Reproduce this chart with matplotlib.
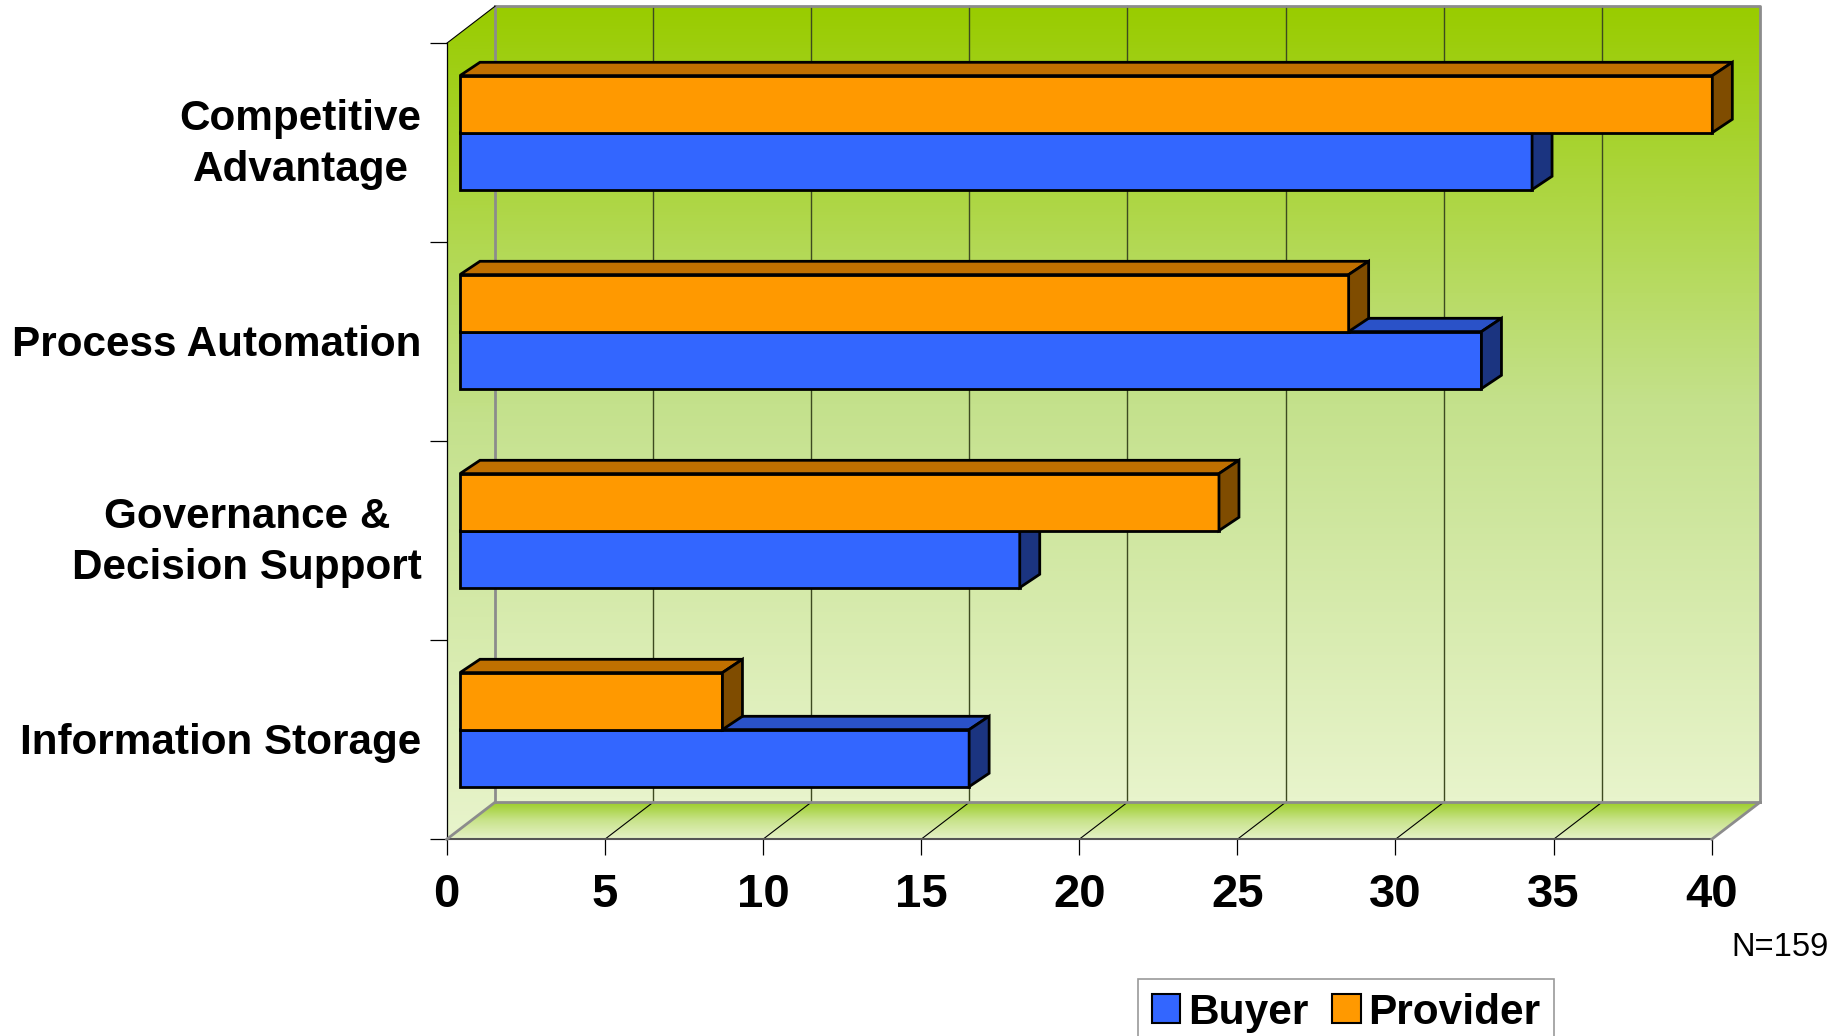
import numpy as np
import matplotlib
matplotlib.use("Agg")
import matplotlib.pyplot as plt
from matplotlib.patches import Polygon, Patch
from matplotlib.colors import LinearSegmentedColormap

# data (bottom category first)
categories = ["Information Storage", "Governance &\nDecision Support",
              "Process Automation", "Competitive\nAdvantage"]
buyer = [16.1, 17.7, 32.3, 33.9]
provider = [8.3, 24.0, 28.1, 39.6]
x_ticks = [0, 5, 10, 15, 20, 25, 30, 35, 40]
series_names = ["Buyer", "Provider"]
note = "N=159"

plt.rcParams['font.family'] = ['Liberation Sans', 'DejaVu Sans']

BLUE = ['#3366ff', '#2a52c8', '#1b3480']      # front, top, side
ORANGE = ['#ff9900', '#c07000', '#7f4c00']

W, H = 1845, 1036
fig = plt.figure(figsize=(W / 100, H / 100), dpi=100)
ax = fig.add_axes([446.7 / W, 1 - 839.3 / H, 1265 / W, 796 / H])

XMAX = x_ticks[-1]
NCAT = len(categories)
DX, DY = 1.527, 0.186          # depth of the box, data units
D0 = 0.275                     # bar front face depth fraction
BDX, BDY = 0.632, 0.067        # bar thickness in depth
BH = 0.2864                    # bar height (band = 1)


def gradient_fill(poly, colors, y0, y1, z=0):
    patch = Polygon(poly, closed=True, facecolor='none', edgecolor='none')
    ax.add_patch(patch)
    cmap = LinearSegmentedColormap.from_list('g', colors)
    grad = np.linspace(0, 1, 256).reshape(-1, 1)
    xs = [p[0] for p in poly]
    im = ax.imshow(grad, cmap=cmap, extent=(min(xs), max(xs), y0, y1),
                   origin='lower', aspect='auto', zorder=z,
                   interpolation='bilinear')
    im.set_clip_box(fig.bbox)
    im.set_clip_path(patch)


wall_cols = ['#e8f4cc', '#c4e18c', '#99cc00']
# back wall
gradient_fill([(DX, DY), (XMAX + DX, DY), (XMAX + DX, NCAT + DY), (DX, NCAT + DY)],
              wall_cols, DY, NCAT + DY)
# side wall
gradient_fill([(0, 0), (DX, DY), (DX, NCAT + DY), (0, NCAT)],
              wall_cols, 0, NCAT + DY)
# floor
gradient_fill([(0, 0), (XMAX, 0), (XMAX + DX, DY), (DX, DY)],
              ['#e6f2c8', '#c8e38a', '#99cc22'], 0, DY)

# grid on back wall and floor
for x in x_ticks[1:-1]:
    ax.plot([x + DX, x + DX], [DY, NCAT + DY], color='#3d4a20', lw=1.0,
            zorder=2, clip_on=False)
    ax.plot([x, x + DX], [0, DY], color='black', lw=0.8, zorder=2, clip_on=False)

gray = '#8c8c8c'
edge_kw = dict(color=gray, lw=2.0, zorder=3, clip_on=False, solid_capstyle='projecting')
ax.plot([DX, XMAX + DX, XMAX + DX], [NCAT + DY, NCAT + DY, DY], **edge_kw)
ax.plot([DX, DX], [DY, NCAT + DY], **edge_kw)
ax.plot([DX, XMAX + DX], [DY, DY], **edge_kw)
ax.plot([0, DX], [0, DY], **edge_kw)
ax.plot([XMAX, XMAX + DX], [0, DY], **edge_kw)
ax.plot([0, DX], [NCAT, NCAT + DY], color='black', lw=0.8, zorder=3, clip_on=False)


def bar3d(y0, value, cols):
    x0 = D0 * DX
    y0 = y0 + D0 * DY
    x1 = x0 + value
    y1 = y0 + BH
    kw = dict(edgecolor='black', lw=2.0, joinstyle='miter', clip_on=False, zorder=5)
    ax.add_patch(Polygon([(x0, y0), (x1, y0), (x1, y1), (x0, y1)], facecolor=cols[0], **kw))
    ax.add_patch(Polygon([(x0, y1), (x1, y1), (x1 + BDX, y1 + BDY), (x0 + BDX, y1 + BDY)],
                         facecolor=cols[1], **kw))
    ax.add_patch(Polygon([(x1, y0), (x1 + BDX, y0 + BDY), (x1 + BDX, y1 + BDY), (x1, y1)],
                         facecolor=cols[2], **kw))


for i in range(NCAT):
    bar3d(i + 0.5 - BH, buyer[i], BLUE)
    bar3d(i + 0.5, provider[i], ORANGE)

ax.set_xlim(0, XMAX)
ax.set_ylim(0, NCAT)

for s in ['top', 'right']:
    ax.spines[s].set_visible(False)
ax.spines['left'].set_color('black')
ax.spines['left'].set_linewidth(0.9)
ax.spines['bottom'].set_color('#555555')
ax.spines['bottom'].set_linewidth(1.5)

ax.set_xticks(x_ticks)
ax.set_xticklabels([str(t) for t in x_ticks])
for lab in ax.get_xticklabels():
    lab.set_fontweight('bold')
    lab.set_fontsize(34)
ax.tick_params(axis='x', direction='out', length=11.3, width=0.9, color='black', pad=13)

ax.set_yticks(range(NCAT + 1))
ax.set_yticklabels([])
ax.tick_params(axis='y', which='major', direction='out', length=12, width=0.9, color='black')

# category labels, centred on each band
for i, cat in enumerate(categories):
    lift = -2.5 + 1.1 * cat.count("\n")
    ax.annotate(cat, xy=(0, i + 0.5), xycoords=('axes fraction', 'data'),
                xytext=(-18, lift), textcoords='offset points',
                ha='right', va='center', multialignment='center',
                fontsize=30.4, fontweight='bold', linespacing=1.36)

fig.text(1829 / W, 1 - 947 / H, note, ha='right', va='center', fontsize=23.5)

handles = [Patch(facecolor=BLUE[0], edgecolor='black', lw=1.5, label=series_names[0]),
           Patch(facecolor=ORANGE[0], edgecolor='black', lw=1.5, label=series_names[1])]
leg = fig.legend(handles=handles, loc='upper left',
                 bbox_to_anchor=(1137.7 / W, 1 - 978.7 / H), ncol=2,
                 frameon=True, fancybox=False, borderaxespad=0,
                 prop=dict(weight='bold', size=30.5),
                 handlelength=0.68, handleheight=0.68, handletextpad=0.18,
                 columnspacing=0.55, borderpad=0.33)
leg.get_frame().set_edgecolor('#808080')
leg.get_frame().set_linewidth(1.2)

fig.savefig("out.png", dpi=100)
